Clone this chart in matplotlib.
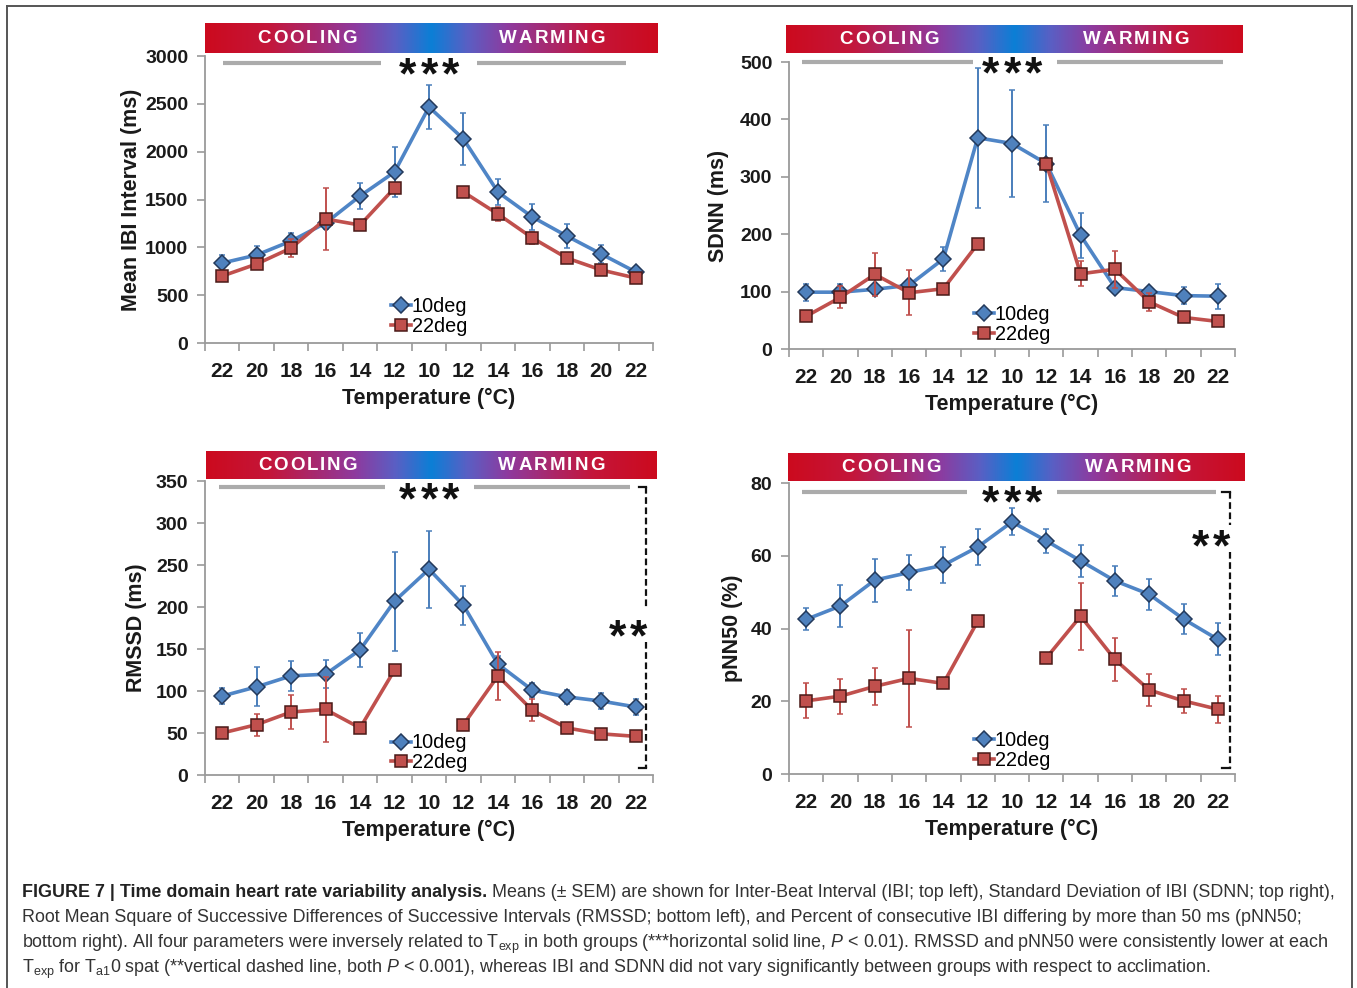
import numpy as np
import matplotlib.pyplot as plt
from matplotlib.colors import LinearSegmentedColormap
from matplotlib.lines import Line2D

plt.rcParams['font.family'] = ['Liberation Sans', 'DejaVu Sans']
plt.rcParams['mathtext.fontset'] = 'custom'
plt.rcParams['mathtext.rm'] = 'Liberation Sans'
plt.rcParams['mathtext.it'] = 'Liberation Sans:italic'

W, H = 1357, 988
nan = np.nan

temps = ['22', '20', '18', '16', '14', '12', '10', '12', '14', '16', '18', '20', '22']

ibi_10 = [836, 920, 1066, 1254, 1537, 1787, 2467, 2132, 1578, 1317, 1118, 930, 742]
ibi_10_err = [80, 90, 85, 60, 140, 260, 225, 270, 140, 140, 130, 90, 30]
ibi_22 = [700, 826, 993, 1296, 1233, 1620, nan, 1578, 1348, 1098, 888, 763, 679]
ibi_22_err = [20, 30, 90, 320, 20, 30, nan, 20, 70, 60, 30, 20, 20]

sdnn_10 = [99, 99, 104, 111, 157, 368, 358, 323, 198, 107, 100, 93, 92]
sdnn_10_err = [15, 15, 10, 10, 21, 122, 93, 67, 39, 8, 8, 15, 22]
sdnn_22 = [57, 90, 130, 98, 105, 183, nan, 323, 131, 139, 82, 55, 48]
sdnn_22_err = [5, 19, 38, 39, 5, 5, nan, 5, 22, 32, 16, 5, 5]

rmssd_10 = [94, 105, 118, 120, 149, 207, 245, 202, 132, 101, 93, 88, 81]
rmssd_10_err = [10, 23, 18, 17, 20, 59, 46, 23, 10, 8, 8, 10, 10]
rmssd_22 = [50, 60, 75, 78, 56, 125, nan, 60, 118, 77, 56, 49, 46]
rmssd_22_err = [4, 13, 20, 39, 4, 4, nan, 4, 29, 13, 5, 4, 4]

pnn_10 = [42.5, 46.2, 53.3, 55.4, 57.4, 62.4, 69.3, 64.1, 58.6, 53.1, 49.4, 42.6, 37.0]
pnn_10_err = [3.0, 5.7, 5.9, 4.8, 4.9, 5.0, 3.7, 3.3, 4.4, 4.2, 4.3, 4.1, 4.4]
pnn_22 = [20.1, 21.4, 24.1, 26.3, 24.9, 42.0, nan, 31.9, 43.4, 31.5, 23.1, 20.1, 17.8]
pnn_22_err = [4.8, 4.8, 5.1, 13.3, 1.0, 1.0, nan, 1.0, 9.2, 6.0, 4.5, 3.4, 3.7]

blue = '#4F85C6'
red = '#C0504D'
gray_sp = '#9a9a9a'
ink = '#1a1a1a'

band_cmap = LinearSegmentedColormap.from_list('band', [
    (0.0, '#CC0A1E'), (0.14, '#C4163A'), (0.33, '#8E3A9E'), (0.42, '#5A5FC4'),
    (0.5, '#0B7FD6'), (0.58, '#5A5FC4'), (0.67, '#8E3A9E'), (0.86, '#C4163A'),
    (1.0, '#CC0A1E')])


def px_rect(x0, y0, x1, y1):
    return [x0 / W, 1 - y1 / H, (x1 - x0) / W, (y1 - y0) / H]


fig = plt.figure(figsize=(W / 100, H / 100), dpi=100)
renderer = fig.canvas.get_renderer()


def spaced(ax, xc, yc, s, target_px, **kw):
    # letter-spaced text centred at xc (axes fraction), total width target_px
    widths = []
    for ch in s:
        t = ax.text(0, 0, ch, **kw)
        widths.append(t.get_window_extent(renderer).width)
        t.remove()
    axw = ax.get_window_extent(renderer).width
    gap = (target_px - sum(widths)) / (len(s) - 1)
    x = xc - target_px / 2 / axw
    for ch, w in zip(s, widths):
        ax.text(x, yc, ch, ha='left', va='center', **kw)
        x += (w + gap) / axw


def banner(rect):
    bax = fig.add_axes(px_rect(*rect))
    grad = np.linspace(0, 1, 512).reshape(1, -1)
    bax.imshow(grad, aspect='auto', cmap=band_cmap, extent=[0, 1, 0, 1])
    bax.set_axis_off()
    spaced(bax, 0.225, 0.47, 'COOLING', 99, color='white', fontsize=13.5,
           fontweight='bold')
    spaced(bax, 0.766, 0.47, 'WARMING', 106, color='white', fontsize=13.5,
           fontweight='bold')


def stars(ax, x, y, n, fs=32):
    offs = (np.arange(n) - (n - 1) / 2) * 15.5
    for o in offs:
        ax.annotate('*', xy=(x, y), xytext=(o, -0.55 * fs), textcoords='offset points',
                    ha='center', va='baseline', fontsize=fs, fontweight='bold',
                    color='#111111', annotation_clip=False)


def panel(rect, brect, v10, e10, v22, e22, ymax, ystep, ylabel, ylab_x,
          bar_y, gl, gr, star_y, leg_y, bracket=None):
    ax = fig.add_axes(px_rect(*rect))
    x = np.arange(len(temps))
    st10 = dict(color=blue, lw=2.6, marker='D', ms=8.5, mfc='#4F81BD', mec='#23395B', mew=1.1)
    st22 = dict(color=red, lw=2.6, marker='s', ms=8.5, mfc='#C0504D', mec='#4A1A18', mew=1.1)
    ax.errorbar(x, v10, yerr=e10, ecolor='#4A7EBB', elinewidth=1.4, capsize=2,
                capthick=1.2, zorder=3, **st10)
    ax.errorbar(x, v22, yerr=e22, ecolor='#C0504D', elinewidth=1.4, capsize=2,
                capthick=1.2, zorder=4, **st22)
    ax.set_xlim(-0.5, 12.5)
    ax.set_ylim(0, ymax)
    ax.set_yticks(np.arange(0, ymax + ystep / 2, ystep))
    ax.set_xticks(x)
    ax.set_xticklabels(temps)
    ax.set_xticks(np.arange(-0.5, 13, 1), minor=True)
    ax.tick_params(axis='x', which='major', length=0, pad=14, labelsize=15)
    ax.tick_params(axis='x', which='minor', length=6, width=1.2, color=gray_sp)
    ax.tick_params(axis='y', length=6, width=1.2, color=gray_sp, pad=6, labelsize=14)
    for lab in ax.get_xticklabels() + ax.get_yticklabels():
        lab.set_fontweight('bold')
        lab.set_color(ink)
    for s in ['top', 'right']:
        ax.spines[s].set_visible(False)
    for s in ['left', 'bottom']:
        ax.spines[s].set_color(gray_sp)
        ax.spines[s].set_linewidth(1.3)
    ax.set_xlabel('Temperature (°C)', fontsize=15.5, fontweight='bold', labelpad=5,
                  color=ink)
    ax.set_ylabel(ylabel, fontsize=15.5, fontweight='bold', color=ink)
    ax.yaxis.set_label_coords(ylab_x, 0.5)
    # significance markers
    ax.plot(gl, [bar_y, bar_y], color='#ababab', lw=3, solid_capstyle='butt',
            clip_on=False)
    ax.plot(gr, [bar_y, bar_y], color='#ababab', lw=3, solid_capstyle='butt',
            clip_on=False)
    stars(ax, 6.0, star_y, 3)
    if bracket is not None:
        bx, top, g1, g2, bot, sx, sy = bracket
        kw = dict(color='#111111', lw=1.6, ls=(0, (3, 1.6)), clip_on=False)
        ax.plot([bx, bx], [top, g1], **kw)
        ax.plot([bx, bx], [g2, bot], **kw)
        ax.plot([bx - 0.22, bx], [top, top], color='#111111', lw=1.6, clip_on=False)
        ax.plot([bx - 0.22, bx], [bot, bot], color='#111111', lw=1.6, clip_on=False)
        stars(ax, sx, sy, 2)
    handles = [Line2D([], [], **st10), Line2D([], [], **st22)]
    ax.legend(handles, ['10deg', '22deg'], loc='center', bbox_to_anchor=(0.5, leg_y),
              frameon=False, fontsize=14.3, handlelength=1.0, handletextpad=0.05,
              labelspacing=0.05, borderpad=0)
    banner(brect)
    return ax


panel((205, 56, 653, 343), (205, 23, 658, 53), ibi_10, ibi_10_err, ibi_22, ibi_22_err,
      3000, 500, 'Mean IBI Interval (ms)', -0.141,
      2927, [0.03, 4.6], [7.4, 11.73], 2920, 0.094)
panel((789, 62, 1235, 349), (786, 25, 1243, 53), sdnn_10, sdnn_10_err, sdnn_22, sdnn_22_err,
      500, 100, 'SDNN (ms)', -0.135,
      500, [-0.13, 4.86], [7.3, 12.15], 498, 0.087)
panel((205, 481, 653, 775), (206, 451, 657, 479), rmssd_10, rmssd_10_err, rmssd_22, rmssd_22_err,
      350, 50, 'RMSSD (ms)', -0.130,
      342.5, [-0.08, 4.72], [7.3, 11.83], 340, 0.075,
      bracket=(12.31, 342.5, 200, 158.7, 8.3, 11.77, 177))
panel((789, 483, 1235, 774), (788, 453, 1245, 481), pnn_10, pnn_10_err, pnn_22, pnn_22_err,
      80, 20, 'pNN50 (%)', -0.103,
      77.4, [-0.13, 4.68], [7.3, 11.96], 77.6, 0.082,
      bracket=(12.35, 77.4, 68.5, 61.1, 1.6, 11.8, 65.5))

# frame
fc = '#555555'
fig.add_artist(Line2D([7 / W, 7 / W], [0, 1 - 6 / H], transform=fig.transFigure, color=fc, lw=1.4))
fig.add_artist(Line2D([1352 / W, 1352 / W], [0, 1 - 6 / H], transform=fig.transFigure, color=fc, lw=1.4))
fig.add_artist(Line2D([7 / W, 1352 / W], [1 - 6 / H, 1 - 6 / H], transform=fig.transFigure, color=fc, lw=1.4))

# caption
cfs = 12.9
ccol = '#333333'
x0 = 22 / W
t1 = fig.text(x0, 1 - 897 / H, 'FIGURE 7 | Time domain heart rate variability analysis.',
              fontsize=cfs, fontweight='bold', color='#222222', va='baseline')
x1 = t1.get_window_extent(renderer).x1 / W
fig.text(x1, 1 - 897 / H, ' Means (± SEM) are shown for Inter-Beat Interval (IBI; top left), '
         'Standard Deviation of IBI (SDNN; top right),', fontsize=cfs, color=ccol, va='baseline')
fig.text(x0, 1 - 922 / H, 'Root Mean Square of Successive Differences of Successive Intervals '
         '(RMSSD; bottom left), and Percent of consecutive IBI differing by more than 50 ms (pNN50;',
         fontsize=cfs, color=ccol, va='baseline')
fig.text(x0, 1 - 948 / H, r'bottom right). All four parameters were inversely related to T$_{\rm exp}$ '
         r'in both groups (***horizontal solid line, $P$ < 0.01). RMSSD and pNN50 were consistently lower at each',
         fontsize=cfs, color=ccol, va='baseline')
fig.text(x0, 1 - 973 / H, r'T$_{\rm exp}$ for T$_{\rm a1}$0 spat (**vertical dashed line, both $P$ < 0.001), '
         r'whereas IBI and SDNN did not vary significantly between groups with respect to acclimation.',
         fontsize=cfs, color=ccol, va='baseline')

fig.savefig('out.png', dpi=100)
